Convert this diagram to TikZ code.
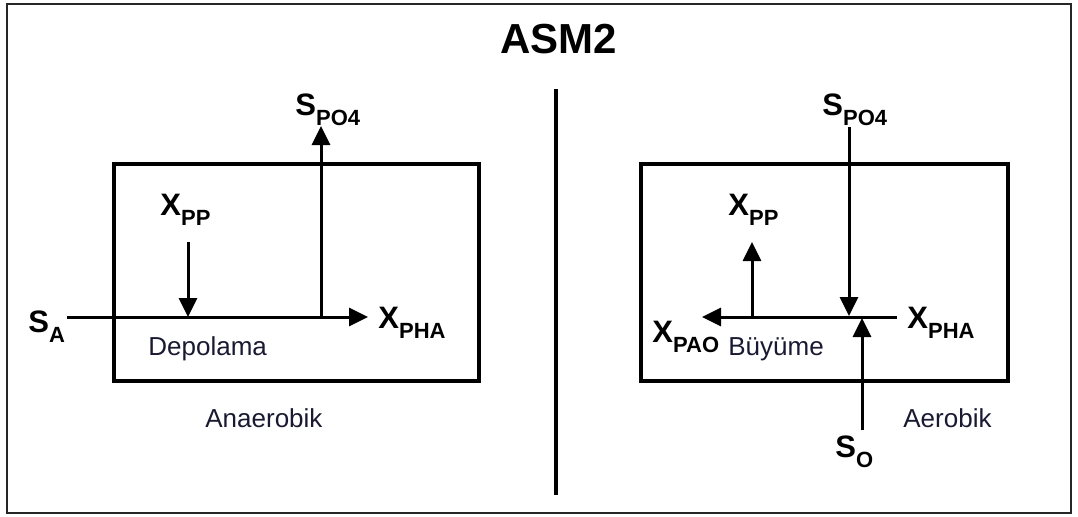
\documentclass[tikz,border=0pt]{standalone}
\usepackage{fontspec}
\setmainfont{Liberation Sans}
\usetikzlibrary{arrows.meta}
\definecolor{navytext}{RGB}{25,25,50}
\newcommand{\vsub}[2]{\textbf{#1}\raisebox{-5pt}{\fontsize{11}{11}\selectfont\bfseries #2}}
\begin{document}
\begin{tikzpicture}[x=0.5pt,y=-0.5pt,
  lbl/.style={inner sep=0pt, anchor=base west, font=\fontsize{15.5}{18}\selectfont},
  txt/.style={inner sep=0pt, anchor=base west, font=\fontsize{13}{15}\selectfont, text=navytext},
  reactor/.style={draw, line width=2pt, inner sep=0pt, minimum height=108.5pt},
  flow/.style={line width=1.5pt, -{Triangle[length=9.5pt,width=9pt]}},
  frame/.style={line width=1pt, draw=black!85},
  divider/.style={line width=2pt}]
\useasboundingbox (0,0) rectangle (1078,516);
\node[frame, draw, inner sep=0pt, minimum width=532pt, minimum height=254.5pt] (frm) at (539,258.5) {};
\node[inner sep=0pt, anchor=base west, font=\fontsize{21}{25}\selectfont\bfseries] (title) at (500,53) {ASM2};
% divider
\coordinate (divTop) at (556,89);
\coordinate (divBot) at (556,495);
\draw[divider] (divTop) -- (divBot);
% left reactor
\node[reactor, minimum width=182.5pt] (boxL) at (296.5,272.5) {};
\node[lbl] (SA) at (28,332) {\vsub{S}{A}};
\node[lbl] (XPPL) at (160,215) {\vsub{X}{PP}};
\node[lbl] (SPOL) at (295,115) {\vsub{S}{PO4}};
\node[lbl] (XPHAL) at (378,328) {\vsub{X}{PHA}};
\node[txt] (dep) at (148,355) {Depolama};
\node[txt] (anae) at (205,427) {Anaerobik};
\coordinate (aStart) at (67,317);
\coordinate (aEnd) at (368,317);
\coordinate (xppTailL) at (188,242);
\coordinate (jL1) at (188,317);
\coordinate (jL2) at (321,317);
\coordinate (spoTipL) at (321,126);
\draw[flow] (aStart) -- (aEnd);
\draw[flow] (xppTailL) -- (jL1);
\draw[flow] (jL2) -- (spoTipL);
% right reactor
\node[reactor, minimum width=183.5pt] (boxR) at (824.5,272.5) {};
\node[lbl] (SPOR) at (822,115) {\vsub{S}{PO4}};
\node[lbl] (XPPR) at (728,215) {\vsub{X}{PP}};
\node[lbl] (XPHAR) at (907,328) {\vsub{X}{PHA}};
\node[lbl] (XPAO) at (652,342) {\vsub{X}{PAO}};
\node[lbl] (SO) at (835,457) {\vsub{S}{O}};
\node[txt] (buy) at (728,355) {Büyüme};
\node[txt] (aero) at (903,427) {Aerobik};
\coordinate (rStart) at (897,317);
\coordinate (rEnd) at (702,317);
\coordinate (jR1) at (752,317);
\coordinate (xppTipR) at (752,242);
\coordinate (spoTailR) at (849,127);
\coordinate (spoTipR) at (849,316);
\coordinate (soTail) at (862,430);
\coordinate (soTip) at (862,318);
\draw[flow] (rStart) -- (rEnd);
\draw[flow] (jR1) -- (xppTipR);
\draw[flow] (spoTailR) -- (spoTipR);
\draw[flow] (soTail) -- (soTip);
\end{tikzpicture}
\end{document}
